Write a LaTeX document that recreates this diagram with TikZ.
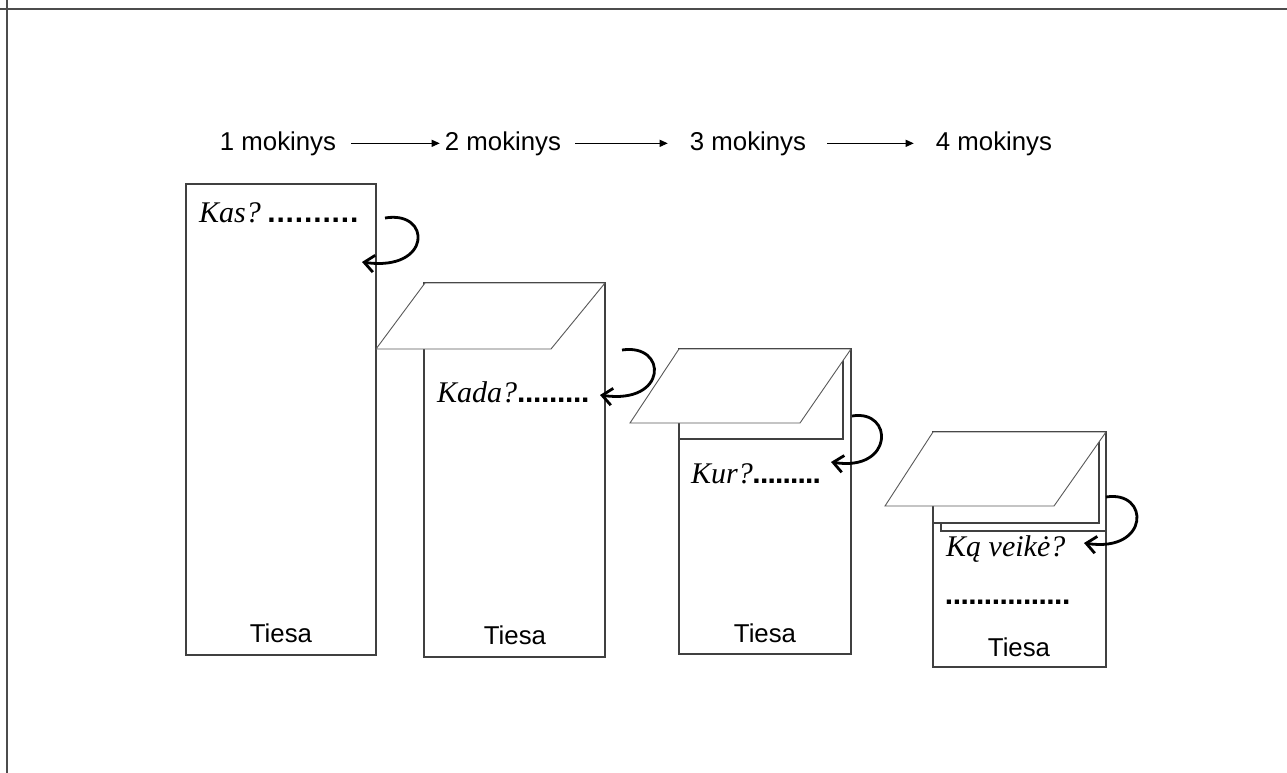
\documentclass[tikz,border=0pt]{standalone}
\usepackage{fontspec}
\setmainfont{Liberation Sans}
\newfontfamily\klausfont{Liberation Serif}
\usetikzlibrary{arrows.meta}
\tikzset{
  lapas/.style={draw=black!75, line width=1.1pt, fill=white},
  atvartas/.style={draw=black!65, line width=0.9pt, fill=white},
  zodis/.style={font=\fontsize{25.8}{30}\selectfont, inner sep=0pt},
  klausimas/.style={font=\klausfont\itshape\fontsize{30}{33}\selectfont, inner sep=0pt, anchor=base west},
  eile/.style={-{Triangle[length=8pt,width=7pt]}, line width=1pt},
  lenkimas/.style={-{Straight Barb[length=10pt,width=17pt,line width=2.8pt]}, line width=2.8pt},
}
\newcommand{\taskai}[2]{\foreach \i in {1,...,#2}{\hbox to #1{\hss\normalfont\bfseries.\hss}}}
\begin{document}
\begin{tikzpicture}[x=1pt,y=-1pt]
    \useasboundingbox (0,0) rectangle (1287,773);

    % frame
    \draw[black!70, line width=2pt] (0,9) -- (1287,9);
    \draw[black!70, line width=2pt] (7,0) -- (7,773);

    % students in a row
    \node[zodis, anchor=base] (m1) at (278,150) {1 mokinys};
    \node[zodis, anchor=base] (m2) at (503,150) {2 mokinys};
    \node[zodis, anchor=base] (m3) at (748,150) {3 mokinys};
    \node[zodis, anchor=base] (m4) at (994,150) {4 mokinys};
    \draw[eile, shorten <=15pt, shorten >=5pt] (m1.east) -- (m2.west);
    \draw[eile, shorten <=14pt, shorten >=22pt] (m2.east) -- (m3.west);
    \draw[eile, shorten <=21pt, shorten >=22pt] (m3.east) -- (m4.west);

    % first sheet
    \draw[lapas] (186,184) rectangle (376,655);
    \node[klausimas] (kas) at (199,222) {Kas?\hspace{6pt}\taskai{9.2pt}{10}};
    \node[zodis, anchor=base] (t1) at (281,642) {Tiesa};

    % second sheet
    \draw[lapas] (424,283) rectangle (605,657);
    \draw[atvartas] (425,283) -- (605,283) -- (551,349) -- (376,349) -- cycle;
    \node[klausimas] (kada) at (437,402) {Kada?\taskai{8pt}{9}};
    \node[zodis, anchor=base] (t2) at (515,644) {Tiesa};

    % third sheet
    \draw[lapas] (679,349) rectangle (851,654);
    \draw[lapas] (679,349) rectangle (843,439);
    \draw[atvartas] (679,349) -- (851,349) -- (800,423) -- (630,423) -- cycle;
    \node[klausimas] (kur) at (691,483) {Kur?\taskai{7.5pt}{9}};
    \node[zodis, anchor=base] (t3) at (765,642) {Tiesa};

    % fourth sheet
    \draw[lapas] (933,432) rectangle (1106,667);
    \draw[lapas] (941,432) rectangle (1106,531);
    \draw[lapas] (933,432) rectangle (1099,523);
    \draw[atvartas] (933,432) -- (1106,432) -- (1054,506) -- (885,506) -- cycle;
    \node[klausimas] (kaveike) at (946,556) {Ką veikė?};
    \node[klausimas] (taskai4) at (945,604) {\taskai{7.8pt}{16}};
    \node[zodis, anchor=base] (t4) at (1019,656) {Tiesa};

    % folding arrows
    \coordinate (r1s) at (385,218);
    \coordinate (r1e) at (362,262);
    \coordinate (r2s) at (622,350);
    \coordinate (r2e) at (600,395);
    \coordinate (r3s) at (852,416);
    \coordinate (r3e) at (831,462);
    \coordinate (r4s) at (1106,497);
    \coordinate (r4e) at (1084,543);
    \draw[lenkimas] (r1s) .. controls (432,210) and (432,272) .. (r1e);
    \draw[lenkimas] (r2s) .. controls (668,343) and (668,405) .. (r2e);
    \draw[lenkimas] (r3s) .. controls (894,409) and (894,472) .. (r3e);
    \draw[lenkimas] (r4s) .. controls (1150,490) and (1150,553) .. (r4e);
\end{tikzpicture}
\end{document}
